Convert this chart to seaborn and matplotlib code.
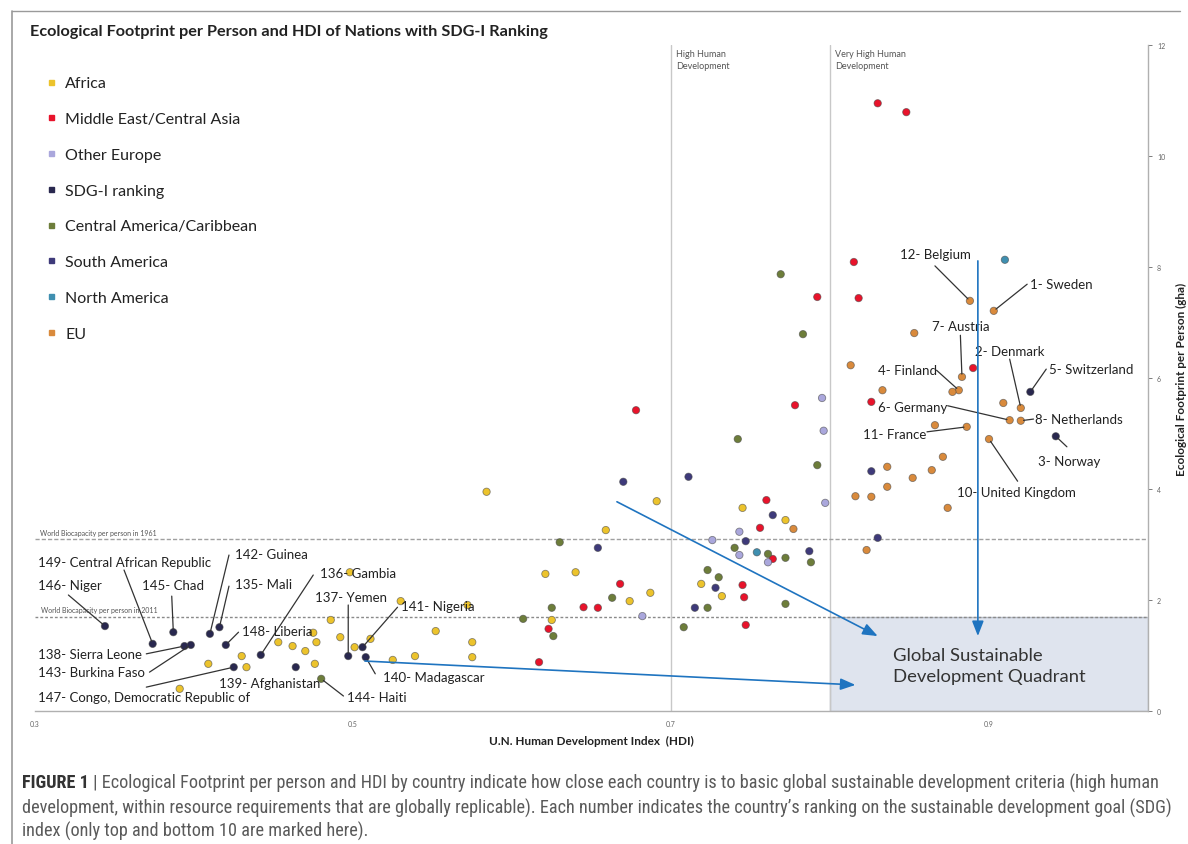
import matplotlib
matplotlib.use("Agg")
import matplotlib.pyplot as plt
from matplotlib import font_manager
from matplotlib.lines import Line2D
from matplotlib.patches import Rectangle
import numpy as np
import pandas as pd
import seaborn as sns

# ---------------------------------------------------------------------------
# Data: HDI (x) and ecological footprint per person in gha (y), by region
# ---------------------------------------------------------------------------
africa_hdi = [0.453, 0.462, 0.470, 0.475, 0.477, 0.430, 0.409, 0.433, 0.476, 0.486,
              0.492, 0.501, 0.511, 0.525, 0.539, 0.552, 0.575, 0.575, 0.391, 0.572,
              0.530, 0.498, 0.584, 0.621, 0.640, 0.625, 0.691, 0.659, 0.674, 0.687,
              0.719, 0.732, 0.745, 0.772]
africa_ef = [1.24, 1.17, 1.08, 1.41, 1.24, 0.99, 0.85, 0.79, 0.85, 1.64,
             1.33, 1.15, 1.30, 0.92, 0.99, 1.44, 1.24, 0.97, 0.40, 1.91,
             1.98, 2.50, 3.95, 2.47, 2.50, 1.64, 3.78, 3.26, 1.98, 2.13,
             2.29, 2.07, 3.66, 3.44]

mideast_hdi = [0.678, 0.778, 0.668, 0.645, 0.654, 0.623, 0.617, 0.760, 0.756, 0.764,
               0.745, 0.746, 0.747, 0.792, 0.815, 0.818, 0.826, 0.890, 0.830, 0.848]
mideast_ef = [5.42, 5.51, 2.29, 1.87, 1.86, 1.48, 0.88, 3.80, 3.30, 2.74,
              2.27, 2.05, 1.55, 7.46, 8.09, 7.44, 5.57, 6.18, 10.95, 10.79]

other_europe_hdi = [0.795, 0.796, 0.797, 0.726, 0.743, 0.743, 0.761, 0.682]
other_europe_ef = [5.64, 5.05, 3.75, 3.08, 3.23, 2.81, 2.68, 1.71]

# Countries carrying their SDG-I rank (bottom ten plus two of the top ten)
sdg_names = ["146- Niger", "149- Central African Republic", "145- Chad",
             "138- Sierra Leone", "143- Burkina Faso", "142- Guinea", "135- Mali",
             "148- Liberia", "147- Congo, Democratic Republic of", "136- Gambia",
             "139- Afghanistan", "137- Yemen", "141- Nigeria", "140- Madagascar",
             "5- Switzerland", "3- Norway"]
sdg_hdi = [0.344, 0.374, 0.387, 0.394, 0.398, 0.410, 0.416, 0.420, 0.425, 0.442,
           0.464, 0.497, 0.506, 0.508, 0.926, 0.942]
sdg_ef = [1.53, 1.21, 1.42, 1.17, 1.19, 1.39, 1.51, 1.19, 0.79, 1.01,
          0.79, 0.99, 1.15, 0.97, 5.75, 4.95]

central_am_names = ["144- Haiti"] + [""] * 18
central_am_hdi = [0.480, 0.607, 0.625, 0.626, 0.630, 0.663, 0.708, 0.723, 0.723, 0.730,
                  0.740, 0.761, 0.772, 0.772, 0.788, 0.742, 0.792, 0.769, 0.783]
central_am_ef = [0.58, 1.66, 1.86, 1.35, 3.04, 2.04, 1.51, 1.86, 2.54, 2.41,
                 2.94, 2.83, 2.76, 1.93, 2.68, 4.90, 4.43, 7.87, 6.79]

south_am_hdi = [0.670, 0.711, 0.654, 0.715, 0.728, 0.764, 0.747, 0.787, 0.826, 0.830]
south_am_ef = [4.13, 4.22, 2.94, 1.86, 2.22, 3.53, 3.06, 2.88, 4.32, 3.12]

north_am_hdi = [0.910, 0.754]
north_am_ef = [8.13, 2.86]

eu_names = ["12- Belgium", "1- Sweden", "", "", "7- Austria", "4- Finland", "", "",
            "2- Denmark", "", "6- Germany", "8- Netherlands", "11- France", "",
            "10- United Kingdom", "", "", "", "", "", "", "", "", "", ""]
eu_hdi = [0.888, 0.903, 0.853, 0.813, 0.883, 0.881, 0.877, 0.833, 0.920, 0.909,
          0.913, 0.920, 0.886, 0.866, 0.900, 0.871, 0.836, 0.864, 0.852, 0.836,
          0.816, 0.826, 0.874, 0.823, 0.777]
eu_ef = [7.39, 7.21, 6.81, 6.23, 6.02, 5.78, 5.75, 5.78, 5.46, 5.55,
         5.24, 5.23, 5.12, 5.15, 4.90, 4.58, 4.40, 4.34, 4.20, 4.04,
         3.87, 3.86, 3.66, 2.90, 3.28]

regions = ["Africa", "Middle East/Central Asia", "Other Europe", "SDG-I ranking",
           "Central America/Caribbean", "South America", "North America", "EU"]
region_colors = ["#ecc32c", "#e8132b", "#aaa7dc", "#29284f",
                 "#6d7d3a", "#3e3a7a", "#3f8fb0", "#d98a3c"]

biocap_1961 = 3.1
biocap_2011 = 1.7
hdi_high = 0.7
hdi_very_high = 0.8

x_ticks = [0.3, 0.5, 0.7, 0.9]
y_ticks = [0, 2, 4, 6, 8, 10, 12]

title = "Ecological Footprint per Person and HDI of Nations with SDG-I Ranking"
x_label = "U.N. Human Development Index  (HDI)"
y_label = "Ecological Footprint per Person (gha)"
caption_head = "FIGURE 1"
caption_lines = [
    "Ecological Footprint per person and HDI by country indicate how close each country is to basic global sustainable development criteria (high human",
    "development, within resource requirements that are globally replicable). Each number indicates the country\u2019s ranking on the sustainable development goal (SDG)",
    "index (only top and bottom 10 are marked here).",
]

# ---------------------------------------------------------------------------
# Label placement: text anchor (hdi, gha) and start of the leader line
# ---------------------------------------------------------------------------
label_layout = {
    "149- Central African Republic": ((0.302, 2.68), (0.356, 2.54)),
    "146- Niger": ((0.302, 2.27), (0.321, 2.09)),
    "145- Chad": ((0.367, 2.27), (0.386, 2.07)),
    "142- Guinea": ((0.426, 2.83), (0.422, 2.81)),
    "135- Mali": ((0.426, 2.29), (0.422, 2.25)),
    "136- Gambia": ((0.479, 2.49), (0.475, 2.45)),
    "148- Liberia": ((0.430, 1.44), (0.428, 1.42)),
    "138- Sierra Leone": ((0.302, 1.03), (0.370, 1.03)),
    "143- Burkina Faso": ((0.302, 0.70), (0.372, 0.70)),
    "147- Congo, Democratic Republic of": ((0.302, 0.25), (0.370, 0.43)),
    "139- Afghanistan": ((0.416, 0.50), None),
    "144- Haiti": ((0.496, 0.25), (0.494, 0.27)),
    "137- Yemen": ((0.476, 2.05), (0.497, 1.91)),
    "141- Nigeria": ((0.530, 1.89), (0.528, 1.87)),
    "140- Madagascar": ((0.519, 0.61), (0.514, 0.67)),
    "12- Belgium": ((0.844, 8.23), (0.866, 8.02)),
    "1- Sweden": ((0.926, 7.69), (0.924, 7.69)),
    "7- Austria": ((0.864, 6.94), (0.882, 6.77)),
    "2- Denmark": ((0.891, 6.49), (0.913, 6.34)),
    "4- Finland": ((0.830, 6.14), (0.867, 6.14)),
    "5- Switzerland": ((0.938, 6.16), (0.936, 6.16)),
    "6- Germany": ((0.830, 5.48), (0.874, 5.50)),
    "8- Netherlands": ((0.929, 5.26), (0.928, 5.26)),
    "11- France": ((0.821, 4.99), (0.861, 5.03)),
    "3- Norway": ((0.931, 4.50), (0.949, 4.76)),
    "10- United Kingdom": ((0.880, 3.95), (0.918, 4.14)),
}

# ---------------------------------------------------------------------------
sns.set_style("white")
plt.rcParams["font.family"] = ["Lato", "DejaVu Sans"]

frames = []
for name, xs, ys in [
    ("Africa", africa_hdi, africa_ef),
    ("Middle East/Central Asia", mideast_hdi, mideast_ef),
    ("Other Europe", other_europe_hdi, other_europe_ef),
    ("Central America/Caribbean", central_am_hdi, central_am_ef),
    ("South America", south_am_hdi, south_am_ef),
    ("North America", north_am_hdi, north_am_ef),
    ("EU", eu_hdi, eu_ef),
    ("SDG-I ranking", sdg_hdi, sdg_ef),
]:
    frames.append(pd.DataFrame({"hdi": xs, "ef": ys, "region": name}))
df = pd.concat(frames, ignore_index=True)
palette = dict(zip(regions, region_colors))

fig = plt.figure(figsize=(11.88, 8.45), dpi=100)
W, H = 1188, 845
ax = fig.add_axes([35 / W, 1 - 712 / H, (1148 - 35) / W, (712 - 46) / H])

# page frame
fig.add_artist(Line2D([12 / W, 12 / W], [0, 1 - 12 / H], transform=fig.transFigure,
                      color="#9a9a9a", lw=1.2))
fig.add_artist(Line2D([12 / W, 1180 / W], [1 - 12 / H, 1 - 12 / H], transform=fig.transFigure,
                      color="#9a9a9a", lw=1.0))

ax.set_xlim(0.3, 1.0)
ax.set_ylim(0, 12)

# sustainable development quadrant
ax.add_patch(Rectangle((hdi_very_high, 0), 1.0 - hdi_very_high, biocap_2011,
                       facecolor="#dfe4ee", edgecolor="#b9bfca", lw=1.0, zorder=1))
ax.text(0.8396, 0.82, "Global Sustainable\nDevelopment Quadrant", fontsize=13.3,
        color="#333333", va="center", ha="left", linespacing=1.35, zorder=2)

# HDI thresholds
for xv in (hdi_high, hdi_very_high):
    ax.axvline(xv, color="#c8c8c8", lw=1.0, zorder=1)
ax.text(hdi_high + 0.003, 11.93, "High Human\nDevelopment", fontsize=6.5,
        color="#555555", va="top", ha="left", linespacing=1.5)
ax.text(hdi_very_high + 0.003, 11.93, "Very High Human\nDevelopment", fontsize=6.5,
        color="#555555", va="top", ha="left", linespacing=1.5)

# biocapacity reference lines
ax.axhline(biocap_1961, color="#a0a0a0", lw=1.0, ls=(0, (3, 1.5)), zorder=1)
ax.axhline(biocap_2011, color="#8a8a8a", lw=1.0, ls=(0, (2, 1.5)), zorder=1)
ax.text(0.303, biocap_1961 + 0.06, "World Biocapacity per person in 1961", fontsize=5,
        color="#555555", va="bottom")
ax.text(0.304, biocap_2011 + 0.06, "World Biocapacity per person in 2011", fontsize=5,
        color="#555555", va="bottom")

sns.scatterplot(data=df, x="hdi", y="ef", hue="region", palette=palette,
                hue_order=regions, s=28, edgecolor="#44444499", linewidth=0.6,
                legend=False, ax=ax, zorder=3)

# leader lines and rank labels
labelled = list(zip(sdg_names, sdg_hdi, sdg_ef)) + \
    list(zip(central_am_names, central_am_hdi, central_am_ef)) + \
    list(zip(eu_names, eu_hdi, eu_ef))
for name, xv, yv in labelled:
    if not name:
        continue
    (tx, ty), line_start = label_layout[name]
    ax.text(tx, ty, name, fontsize=9.5, color="#222222", va="center", ha="left", zorder=5)
    if line_start is not None:
        ax.annotate("", xy=(xv, yv), xytext=line_start,
                    arrowprops=dict(arrowstyle="-", color="#333333", lw=0.9,
                                    shrinkA=0, shrinkB=2), zorder=4)

# arrows towards the quadrant
arrow_color = "#1f74c0"
for start, end in [((0.666, 3.77), (0.830, 1.35)),
                   ((0.893, 8.11), (0.893, 1.35)),
                   ((0.5075, 0.90), (0.816, 0.47))]:
    ax.annotate("", xy=end, xytext=start,
                arrowprops=dict(arrowstyle="-|>,head_length=0.9,head_width=0.35",
                                color=arrow_color, lw=1.2, shrinkA=0, shrinkB=0),
                zorder=6)

# axes styling
for side in ("left", "top"):
    ax.spines[side].set_visible(False)
for side in ("bottom", "right"):
    ax.spines[side].set_color("#b0b0b0")
    ax.spines[side].set_linewidth(1.0)
ax.yaxis.tick_right()
ax.yaxis.set_label_position("right")
ax.set_xticks(x_ticks)
ax.set_xticklabels([f"{v:.1f}" for v in x_ticks])
ax.set_yticks(y_ticks)
ax.set_yticklabels([str(v) for v in y_ticks])
ax.tick_params(axis="both", labelsize=5, colors="#666666", length=3, width=0.6,
               direction="out")
ax.set_xlabel(x_label, fontsize=8.5, fontweight="bold", color="#222222", labelpad=6)
ax.set_ylabel(y_label, fontsize=8.5, fontweight="bold", color="#222222", labelpad=8)

# legend
handles = [Line2D([], [], marker="s", ls="", markersize=3.6, markerfacecolor=c,
                  markeredgecolor=c) for c in region_colors]
leg = ax.legend(handles, regions, loc="upper left", bbox_to_anchor=(0.0, 0.970),
                frameon=False, fontsize=11.5, labelspacing=1.35, handlelength=0.6,
                handletextpad=0.6, borderaxespad=0.3)
for t in leg.get_texts():
    t.set_color("#222222")

fig.text(30 / W, 1 - 32 / H, title, fontsize=11.7, fontweight="bold", color="#222222",
         va="center", ha="left")

# figure caption, sized so the first line fills the text block width
avail = {f.name for f in font_manager.fontManager.ttflist}
cap_family = "Liberation Sans"
for cand in ["Liberation Sans Narrow", "Roboto Condensed", "Open Sans Condensed",
             "DejaVu Sans Condensed", "Noto Sans Condensed"]:
    if cand in avail:
        cap_family = cand
        break
cap_font = [cap_family, "DejaVu Sans"]
renderer = fig.canvas.get_renderer()

head = fig.text(22 / W, 1 - 783 / H, caption_head, fontsize=10, fontweight="bold",
                color="#333333", va="center", ha="left", family=cap_font)
line1 = fig.text(0, 1 - 783 / H, "| " + caption_lines[0], fontsize=10, color="#5a5a5a",
                 va="center", ha="left", family=cap_font)
head_w = head.get_window_extent(renderer).width
line1_w = line1.get_window_extent(renderer).width
target = 1160 - 22
scale = target / (head_w + 4 + line1_w)
cap_size = 10 * scale
head.set_fontsize(cap_size)
line1.set_fontsize(cap_size)
head_w = head.get_window_extent(renderer).width
line1.set_x((22 + head_w + 4) / W)
fig.text(22 / W, 1 - 808 / H, caption_lines[1], fontsize=cap_size, color="#5a5a5a",
         va="center", ha="left", family=cap_font)
fig.text(22 / W, 1 - 831 / H, caption_lines[2], fontsize=cap_size, color="#5a5a5a",
         va="center", ha="left", family=cap_font)

fig.savefig("out.png", dpi=100, facecolor="white")
